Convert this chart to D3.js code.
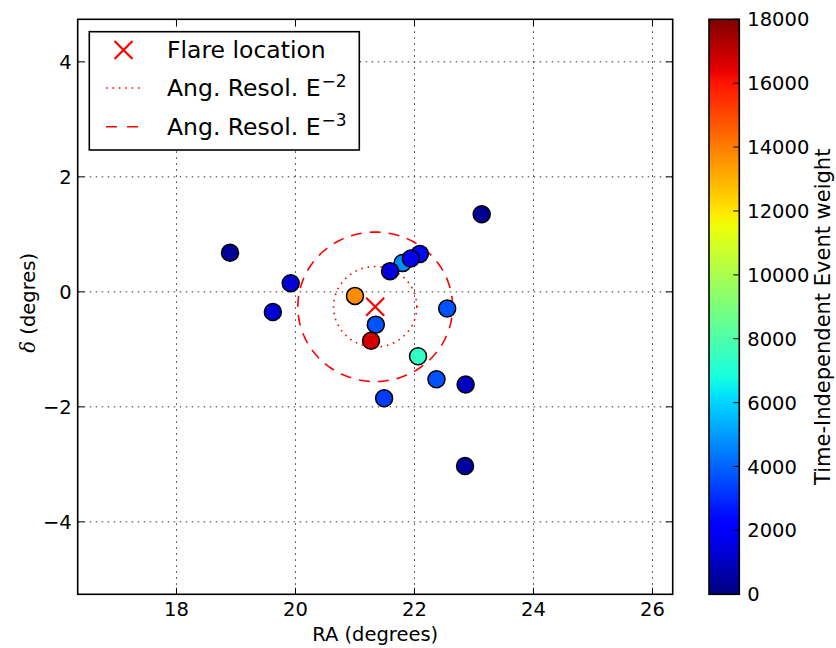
<!DOCTYPE html>
<html><head><meta charset="utf-8">
<script src="https://cdn.jsdelivr.net/npm/d3@7"></script>
<style>body{margin:0;background:#fff} text{font-family:"DejaVu Sans",sans-serif;fill:#000}</style>
</head><body><svg id="c" width="836" height="648"></svg>
<script>
// ---- data ----
const ra     = [23.13, 18.90, 19.92, 19.62, 21.00, 21.35, 21.27, 22.06, 22.37, 22.86, 22.55, 21.80, 22.09, 21.59, 21.94, 21.49, 22.85];
const dec    = [ 1.35,  0.68,  0.15, -0.35, -0.07, -0.57, -0.85, -1.12, -1.52, -1.61, -0.29,  0.50,  0.66,  0.36,  0.58, -1.85, -3.03];
const weight = [  300,   400,  1300,  1300, 13700,  3700, 16700,  7400,  3700,  1000,  3700,  4700,  2400,  1500,  1800,  3300,   500];
const flareRA = 21.34, flareDec = -0.26;
const resolE2 = 0.7, resolE3 = 1.3;
const xDomain = [16.34, 26.34], yDomain = [-5.26, 4.74];
const xTicks = [18, 20, 22, 24, 26];
const yTicks = [-4, -2, 0, 2, 4];
const cbTicks = [0, 2000, 4000, 6000, 8000, 10000, 12000, 14000, 16000, 18000];
const cbDomain = [0, 18000];
const legendLabels = ["Flare location", "Ang. Resol. E", "Ang. Resol. E"];
const legendSup = ["", "\u22122", "\u22123"];

// ---- jet colormap ----
function seg(pts, t){
  for (let i=1;i<pts.length;i++){
    if (t<=pts[i][0]){const a=pts[i-1],b=pts[i];return a[1]+(b[1]-a[1])*(t-a[0])/(b[0]-a[0]);}
  }
  return pts[pts.length-1][1];
}
function jet(t){
  t=Math.max(0,Math.min(1,t));
  const r=seg([[0,0],[0.35,0],[0.66,1],[0.89,1],[1,0.5]],t);
  const g=seg([[0,0],[0.125,0],[0.375,1],[0.64,1],[0.91,0],[1,0]],t);
  const b=seg([[0,0.5],[0.11,1],[0.34,1],[0.65,0],[1,0]],t);
  return d3.rgb(r*255,g*255,b*255).formatHex();
}

const svg = d3.select("#c");
const L=77.7, T=19.3, R=672.7, B=594.3;
const x = d3.scaleLinear().domain(xDomain).range([L,R]);
const y = d3.scaleLinear().domain(yDomain).range([B,T]);
const color = d3.scaleSequential(jet).domain(cbDomain);
const fs = 19.5;

svg.append("defs").append("clipPath").attr("id","clip")
  .append("rect").attr("x",L).attr("y",T).attr("width",R-L).attr("height",B-T);

// grid
const grid = svg.append("g").attr("stroke","#000").attr("stroke-width",1).attr("stroke-dasharray","1.5,4.5").attr("opacity",0.8);
xTicks.forEach(v=>grid.append("line").attr("x1",x(v)).attr("x2",x(v)).attr("y1",T).attr("y2",B));
yTicks.forEach(v=>grid.append("line").attr("y1",y(v)).attr("y2",y(v)).attr("x1",L).attr("x2",R));

// circles of resolution
const ang = d3.range(0, 361, 2).map(a=>a*Math.PI/180);
function ring(r){return d3.line().x(a=>x(flareRA+r*Math.cos(a))).y(a=>y(flareDec+r*Math.sin(a)))(ang);}
const plot = svg.append("g").attr("clip-path","url(#clip)");
plot.append("path").attr("d",ring(resolE2)).attr("fill","none").attr("stroke","red").attr("stroke-width",1.6).attr("stroke-dasharray","1.6,4.8");
plot.append("path").attr("d",ring(resolE3)).attr("fill","none").attr("stroke","red").attr("stroke-width",1.6).attr("stroke-dasharray","11,8");

// flare marker
const xs=9;
const fx=x(flareRA), fy=y(flareDec);
plot.append("path").attr("d",`M${fx-xs},${fy-xs}L${fx+xs},${fy+xs}M${fx-xs},${fy+xs}L${fx+xs},${fy-xs}`)
  .attr("stroke","red").attr("stroke-width",2.2);

// events
plot.selectAll("circle.ev").data(ra.map((r,i)=>({r, d:dec[i], w:weight[i]})))
  .enter().append("circle").attr("class","ev")
  .attr("cx",d=>x(d.r)).attr("cy",d=>y(d.d)).attr("r",8.5)
  .attr("fill",d=>color(d.w)).attr("stroke","#000").attr("stroke-width",1.5);

// axes (inward ticks on all sides)
const tl=6.5;
const ax = svg.append("g").attr("stroke","#000").attr("stroke-width",1);
xTicks.forEach(v=>{
  ax.append("line").attr("x1",x(v)).attr("x2",x(v)).attr("y1",B).attr("y2",B-tl);
  ax.append("line").attr("x1",x(v)).attr("x2",x(v)).attr("y1",T).attr("y2",T+tl);
});
yTicks.forEach(v=>{
  ax.append("line").attr("y1",y(v)).attr("y2",y(v)).attr("x1",L).attr("x2",L+tl);
  ax.append("line").attr("y1",y(v)).attr("y2",y(v)).attr("x1",R).attr("x2",R-tl);
});
svg.append("rect").attr("x",L).attr("y",T).attr("width",R-L).attr("height",B-T)
  .attr("fill","none").attr("stroke","#000").attr("stroke-width",1.6);

const fmt = v => String(v).replace("-","\u2212");
svg.append("g").selectAll("text").data(xTicks).enter().append("text")
  .attr("x",d=>x(d)).attr("y",B+22).attr("text-anchor","middle").attr("font-size",fs).text(fmt);
svg.append("g").selectAll("text").data(yTicks).enter().append("text")
  .attr("x",L-6).attr("y",d=>y(d)).attr("dy","0.36em").attr("text-anchor","end").attr("font-size",fs).text(fmt);

svg.append("text").attr("x",(L+R)/2).attr("y",641).attr("text-anchor","middle").attr("font-size",fs).text("RA (degrees)");
const yl = svg.append("text").attr("transform",`translate(35,${(T+B)/2 - 4}) rotate(-90)`).attr("text-anchor","middle").attr("font-size",fs);
yl.append("tspan").attr("font-style","italic").attr("font-family","DejaVu Serif").text("\u03b4");
yl.append("tspan").text(" (degres)");

// legend
const lg = svg.append("g");
lg.append("rect").attr("x",89.3).attr("y",31.7).attr("width",270).attr("height",118.3)
  .attr("fill","#fff").attr("stroke","#000").attr("stroke-width",1.6);
const rowY=[50,88,126.7];
const hx=123.5;
lg.append("path").attr("d",`M${hx-9},${rowY[0]-9}L${hx+9},${rowY[0]+9}M${hx-9},${rowY[0]+9}L${hx+9},${rowY[0]-9}`).attr("stroke","red").attr("stroke-width",2.2);
lg.append("line").attr("x1",106).attr("x2",141).attr("y1",rowY[1]).attr("y2",rowY[1]).attr("stroke","red").attr("stroke-width",1.6).attr("stroke-dasharray","1.6,4.8");
lg.append("line").attr("x1",106).attr("x2",138).attr("y1",rowY[2]).attr("y2",rowY[2]).attr("stroke","red").attr("stroke-width",1.6).attr("stroke-dasharray","11,10");
legendLabels.forEach((t,i)=>{
  const tx = lg.append("text").attr("x",167).attr("y",rowY[i]).attr("dy","0.36em").attr("font-size",23.5);
  tx.append("tspan").text(t);
  if (legendSup[i]) tx.append("tspan").attr("dx",1).attr("dy","-0.55em").attr("font-size",17).text(legendSup[i]);
});

// colorbar
const cbL=709, cbR=739.3;
const cy = d3.scaleLinear().domain(cbDomain).range([B,T]);
const grad = svg.select("defs").append("linearGradient").attr("id","jet").attr("x1",0).attr("x2",0).attr("y1",1).attr("y2",0);
d3.range(0,1.0001,0.01).forEach(t=>grad.append("stop").attr("offset",t).attr("stop-color",jet(t)));
svg.append("rect").attr("x",cbL).attr("y",T).attr("width",cbR-cbL).attr("height",B-T)
  .attr("fill","url(#jet)").attr("stroke","#000").attr("stroke-width",1.6);
const cbt = svg.append("g").attr("stroke","#000").attr("stroke-width",1);
cbTicks.forEach(v=>cbt.append("line").attr("x1",cbR).attr("x2",cbR-6).attr("y1",cy(v)).attr("y2",cy(v)));
svg.append("g").selectAll("text").data(cbTicks).enter().append("text")
  .attr("x",cbR+8).attr("y",d=>cy(d)).attr("dy","0.36em").attr("font-size",fs).text(d=>d);
svg.append("text").attr("transform",`translate(830,${(T+B)/2 + 10}) rotate(-90)`).attr("text-anchor","middle")
  .attr("font-size",21).text("Time-Independent Event weight");
</script></body></html>
